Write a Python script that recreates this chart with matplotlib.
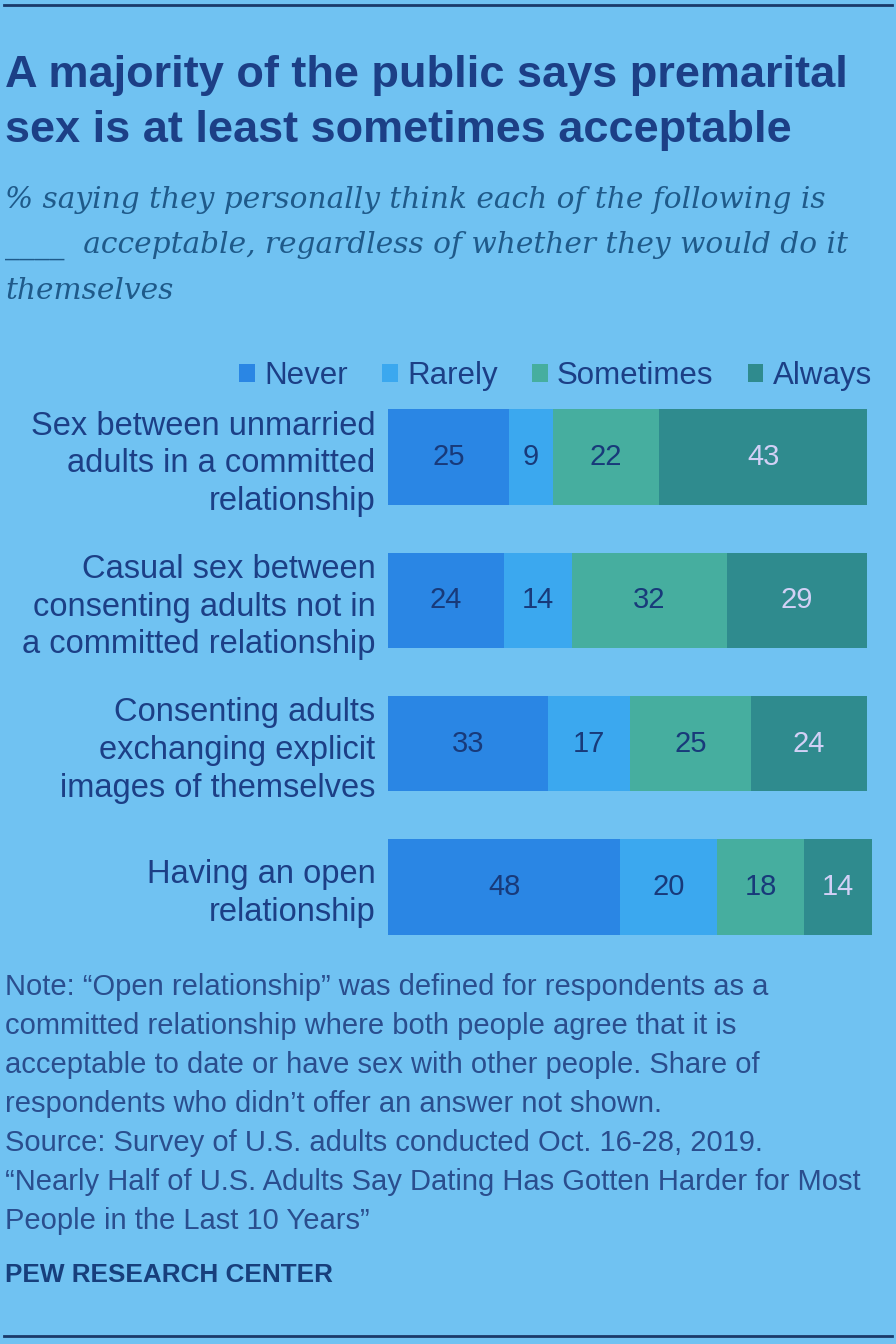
import matplotlib
matplotlib.use("Agg")
import matplotlib.pyplot as plt
import numpy as np

categories = [
    "Sex between unmarried\nadults in a committed\nrelationship",
    "Casual sex between\nconsenting adults not in\na committed relationship",
    "Consenting adults\nexchanging explicit\nimages of themselves",
    "Having an open\nrelationship",
]
series_names = ["Never", "Rarely", "Sometimes", "Always"]
never = [25, 24, 33, 48]
rarely = [9, 14, 17, 20]
sometimes = [22, 32, 25, 18]
always = [43, 29, 24, 14]

title = "A majority of the public says premarital\nsex is at least sometimes acceptable"
subtitle = ("% saying they personally think each of the following is\n"
            "____  acceptable, regardless of whether they would do it\n"
            "themselves")
note = ("Note: \u201cOpen relationship\u201d was defined for respondents as a\n"
        "committed relationship where both people agree that it is\n"
        "acceptable to date or have sex with other people. Share of\n"
        "respondents who didn\u2019t offer an answer not shown.\n"
        "Source: Survey of U.S. adults conducted Oct. 16-28, 2019.\n"
        "\u201cNearly Half of U.S. Adults Say Dating Has Gotten Harder for Most\n"
        "People in the Last 10 Years\u201d")
brand = "PEW RESEARCH CENTER"

bg = "#70c2f2"
colors = ["#2a86e4", "#3ba8ef", "#46ae9f", "#2f8b8e"]
label_colors = ["#183a7a", "#183a7a", "#183a7a", "#d2d0f6"]
text_dark = "#1c3f86"

W, H = 896, 1344
fig = plt.figure(figsize=(W / 100, H / 100), dpi=100, facecolor=bg)

def fx(px):
    return px / W

def fy(py):
    return 1 - py / H

sans = ["Liberation Sans", "DejaVu Sans"]

# top / bottom rules
fig.add_artist(plt.Line2D([fx(4), fx(892)], [fy(5), fy(5)], color="#1a3a6a", lw=2))
fig.add_artist(plt.Line2D([fx(4), fx(892)], [fy(1336), fy(1336)], color="#1a3a6a", lw=2))

fig.text(fx(5), fy(103), title, family=sans, weight="bold", fontsize=32.5,
         color=text_dark, ha="left", va="center", linespacing=1.42)
fig.text(fx(5), fy(186), subtitle, family=["DejaVu Serif"], style="italic",
         fontsize=21.3, color="#1f5a8a", ha="left", va="top", linespacing=1.76)
fig.text(fx(5), fy(973), note, family=sans, fontsize=21, color="#2a4e8e",
         ha="left", va="top", linespacing=1.5)
fig.text(fx(5), fy(1275), brand, family=sans, weight="bold", fontsize=18.8,
         color="#173f7c", ha="left", va="center")

# bars axes
ax_left, ax_right = 388, 872
ax_top, ax_bot = 385.5, 958.5
ax = fig.add_axes([fx(ax_left), fy(ax_bot), (ax_right - ax_left) / W, (ax_bot - ax_top) / H])
ax.set_facecolor("none")
y = np.arange(len(categories))
left = np.zeros(len(categories))
handles = []
for vals, name, c, lc in zip([never, rarely, sometimes, always], series_names, colors, label_colors):
    vals = np.array(vals, dtype=float)
    b = ax.barh(y, vals, left=left, height=0.665, color=c, label=name, edgecolor="none")
    handles.append(b)
    for yi, (l, v) in enumerate(zip(left, vals)):
        ax.text(l + v / 2, yi, f"{int(v)}", ha="center", va="center",
                fontsize=21, color=lc, family=sans)
    left += vals

ax.set_xlim(0, 100)
ax.set_ylim(3.5, -0.5)
ax.set_yticks(y)
ax.set_yticklabels(categories, family=sans, fontsize=23.5, color=text_dark,
                   linespacing=1.28, ha="right")
ax.tick_params(axis="y", length=0, pad=9)
ax.set_xticks([])
for s in ax.spines.values():
    s.set_visible(False)

leg = ax.legend(handles=handles, labels=series_names, ncol=4, loc="lower right",
                bbox_to_anchor=(1.0, 0.99), frameon=False, borderaxespad=0,
                borderpad=0, handlelength=0.5, handleheight=0.5, handletextpad=0.3,
                columnspacing=1.1, prop={"family": sans, "size": 22.5})
for t in leg.get_texts():
    t.set_color(text_dark)

fig.savefig("out.png", dpi=100, facecolor=bg)
